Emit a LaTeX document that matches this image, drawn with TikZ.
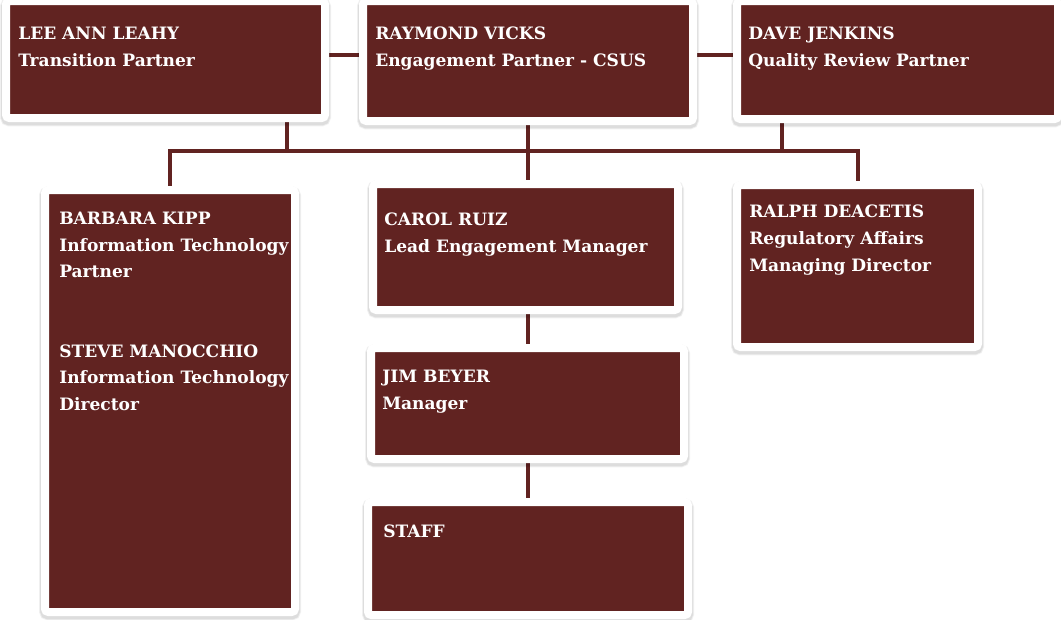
\documentclass[tikz,border=0pt]{standalone}
\usepackage{fontspec}
\setmainfont{DejaVu Serif}
\usepackage{xcolor}
\usetikzlibrary{positioning, backgrounds}

\definecolor{maroon}{RGB}{97,35,33}

\begin{document}
\begin{tikzpicture}[
        x=0.75pt, y=-0.75pt,
        haze/.style={preaction={draw=black, draw opacity=#1, line width=9pt, transform canvas={yshift=-1.8pt}}},
        card/.style={rectangle, fill=maroon, draw=white, line width=6pt, rounded corners=2.5pt, inner sep=0pt,
            haze=0.06, preaction={draw=black, draw opacity=0.08, line width=7.5pt, transform canvas={yshift=-1.8pt}}},
        boxsize/.style 2 args={minimum width=#1*0.75pt, minimum height=#2*0.75pt},
        label/.style={anchor=north west, align=left, text=white, inner sep=0pt,
            font=\bfseries\fontsize{12.8pt}{19.9pt}\selectfont},
        link/.style={draw=maroon, line width=3pt}
    ]
    \useasboundingbox (0,0) rectangle (1061,619);

    % --- Partners (top row) ---
    \node[card, boxsize={319}{117}] (lee) at (165.5,59.5) {};
    \node[card, boxsize={330}{120}] (ray) at (528,61) {};
    \node[card, boxsize={321}{118}] (dave) at (897.5,60) {};

    % --- Second row ---
    \node[card, boxsize={250}{422}] (barbara) at (170,401) {};
    \node[card, boxsize={305}{126}] (carol) at (525.5,247) {};
    \node[card, boxsize={241}{162}] (ralph) at (857.5,266) {};

    % --- Engagement team ---
    \node[card, boxsize={313}{111}] (jim) at (527.5,403.5) {};
    \node[card, boxsize={320}{113}] (staff) at (528,558.5) {};

    % --- Names and titles ---
    \node[label] (lee-t) at (18,27) {LEE ANN LEAHY\\Transition Partner};
    \node[label] (ray-t) at (375,27) {RAYMOND VICKS\\Engagement Partner - CSUS};
    \node[label] (dave-t) at (748,27) {DAVE JENKINS\\Quality Review Partner};
    \node[label] (barbara-t) at (59,212) {BARBARA KIPP\\Information Technology\\Partner\\[39.8pt]STEVE MANOCCHIO\\Information Technology\\Director};
    \node[label] (carol-t) at (384,213) {CAROL RUIZ\\Lead Engagement Manager};
    \node[label] (ralph-t) at (749,205) {RALPH DEACETIS\\Regulatory Affairs\\Managing Director};
    \node[label] (jim-t) at (382,370) {JIM BEYER\\Manager};
    \node[label] (staff-t) at (383,525) {STAFF};

    % --- Connectors ---
    \begin{scope}[on background layer]
        \coordinate (toprow) at (0,55);
        \coordinate (bus) at (0,151);
        \coordinate (leedrop) at ([xshift=-31.5pt]lee.south east);
        \coordinate (davedrop) at ([xshift=36.75pt]dave.south west);

        \draw[link] (lee.east |- toprow) -- (ray.west |- toprow);
        \draw[link] (ray.east |- toprow) -- (dave.west |- toprow);
        \draw[link] (ray.south) -- (ray.south |- carol.north);
        \draw[link] (barbara.north) -- (barbara.north |- bus) -- (ralph.north |- bus) -- (ralph.north);
        \draw[link] (leedrop) -- (leedrop |- bus);
        \draw[link] (davedrop) -- (davedrop |- bus);
        \draw[link] (jim.north) -- (jim.north |- carol.south);
        \draw[link] (jim.south) -- (jim.south |- staff.north);
    \end{scope}

\end{tikzpicture}
\end{document}
